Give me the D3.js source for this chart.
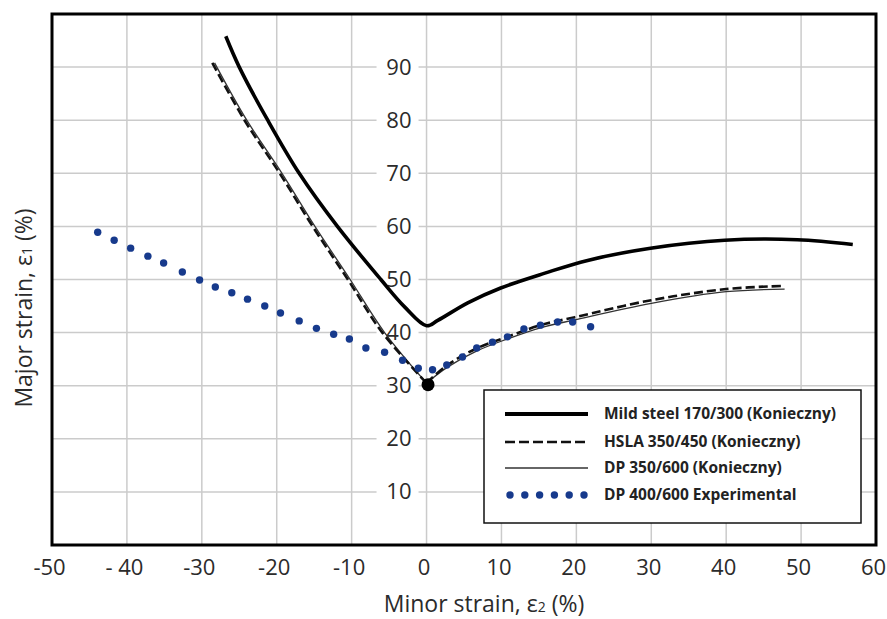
<!DOCTYPE html>
<html>
<head>
<meta charset="utf-8">
<script src="https://cdn.jsdelivr.net/npm/d3@7"></script>
<style>
  body { margin: 0; background: #fff; }
  svg { display: block; font-family: "Open Sans", sans-serif; }
</style>
</head>
<body>
<svg id="chart"></svg>
<script>
// tick values and labels
const xTicks = [-50, -40, -30, -20, -10, 0, 10, 20, 30, 40, 50, 60];
const xTickLabels = ['-50', '- 40', '-30', '-20', '-10', '0', '10', '20', '30', '40', '50', '60'];
const yTicks = [10, 20, 30, 40, 50, 60, 70, 80, 90];

// forming limit curves, [minor strain, major strain]
const mildLeft = [[-26.8, 95.8], [-25.0, 90], [-21.2, 80], [-17.0, 70], [-11.9, 60], [-6.1, 50], [-2.9, 44.8], [0, 41.3]];
const mildRight = [[0, 41.3], [1.5, 42.3], [5.5, 45.6], [9.9, 48.4], [15.8, 51.2], [21.5, 53.6], [29.9, 55.9], [39.8, 57.4], [49.5, 57.5], [56.9, 56.6]];
const hslaLeft = [[-28.6, 90.8], [-24.3, 80], [-19.6, 70], [-15.2, 60], [-10.5, 50], [-5.9, 40], [0, 30.5]];
const hslaRight = [[0, 30.5], [2.8, 33.9], [6.8, 37.1], [10.8, 39.2], [15.2, 41.4], [19.8, 42.9], [30, 46.1], [40, 48.2], [47.8, 48.8]];
const dpLeft = [[-28.3, 90.8], [-24.0, 80], [-19.3, 70], [-14.9, 60], [-10.2, 50], [-5.6, 40], [0, 30.5]];
const dpRight = [[0, 30.5], [2.8, 33.5], [6.8, 36.6], [10.8, 38.8], [15.2, 40.9], [19.8, 42.4], [30, 45.5], [40, 47.7], [47.8, 48.2]];
const vertex = [[0.2, 30.2]];
const experimental = [
    [-43.9, 58.9], [-41.7, 57.4], [-39.5, 55.9], [-37.2, 54.4], [-35.1, 53.1], [-32.6, 51.4],
    [-30.3, 49.9], [-28.2, 48.6], [-26.0, 47.5], [-23.9, 46.3], [-21.6, 45.0], [-19.5, 43.7],
    [-17.0, 42.2], [-14.7, 40.8], [-12.4, 39.7], [-10.3, 38.8], [-8.1, 37.1], [-5.6, 36.3],
    [-3.2, 34.8], [-1.1, 33.3], [0.8, 33.0], [2.7, 33.9], [4.8, 35.4], [6.7, 37.1],
    [8.8, 38.2], [10.8, 39.2], [13.0, 40.7], [15.2, 41.4], [17.5, 42.0], [19.5, 42.0], [21.9, 41.1]
];
const legendNames = ['Mild steel 170/300 (Konieczny)', 'HSLA 350/450 (Konieczny)', 'DP 350/600 (Konieczny)', 'DP 400/600 Experimental'];

const width = 887, height = 619;
const margin = {top: 14, right: 11, bottom: 74, left: 52};
const innerWidth = width - margin.left - margin.right;
const innerHeight = height - margin.top - margin.bottom;
const textColor = '#2b2b2b';
const dotColor = '#173a8c';

const svg = d3.select('#chart')
    .attr('width', width)
    .attr('height', height);

const chart = svg.append('g')
    .attr('transform', `translate(${margin.left}, ${margin.top})`);

const xscale = d3.scaleLinear().domain([-50, 60]).range([0, innerWidth]);
const yscale = d3.scaleLinear().domain([0, 100]).range([innerHeight, 0]);

// grid
chart.selectAll('.vgrid')
    .data(xTicks.slice(1, -1))
    .enter()
    .append('line')
    .attr('x1', d => xscale(d)).attr('x2', d => xscale(d))
    .attr('y1', 0).attr('y2', innerHeight)
    .attr('stroke', '#cbcbcb')
    .attr('stroke-width', 1.5);

chart.selectAll('.hgrid')
    .data(yTicks)
    .enter()
    .append('line')
    .attr('x1', 0).attr('x2', innerWidth)
    .attr('y1', d => yscale(d)).attr('y2', d => yscale(d))
    .attr('stroke', '#cbcbcb')
    .attr('stroke-width', 1.5);

// x axis labels
const xaxis = d3.axisBottom(xscale)
    .tickValues(xTicks)
    .tickFormat((d, i) => xTickLabels[i])
    .tickSize(0)
    .tickPadding(14);

const xaxis_group = chart.append('g')
    .attr('transform', `translate(0, ${innerHeight})`)
    .call(xaxis);
xaxis_group.select('.domain').remove();
xaxis_group.selectAll('text')
    .attr('dx', -3)
    .style('font-size', '22px')
    .style('font-family', '"Open Sans", sans-serif')
    .attr('fill', textColor);

// y axis labels sit on white boxes left of minor strain = 0
const yaxis = d3.axisLeft(yscale)
    .tickValues(yTicks)
    .tickSize(0)
    .tickPadding(15);

const yaxis_group = chart.append('g')
    .attr('transform', `translate(${xscale(0)}, 0)`)
    .call(yaxis);
yaxis_group.select('.domain').remove();
yaxis_group.selectAll('.tick')
    .insert('rect', 'text')
    .attr('x', -50)
    .attr('y', -13)
    .attr('width', 42)
    .attr('height', 26)
    .attr('fill', '#fff');
yaxis_group.selectAll('text')
    .style('font-size', '22px')
    .style('font-family', '"Open Sans", sans-serif')
    .attr('fill', textColor);

// curves
const line = d3.line()
    .x(d => xscale(d[0]))
    .y(d => yscale(d[1]))
    .curve(d3.curveCatmullRom.alpha(0.5));

[dpLeft, dpRight].forEach(branch => {
    chart.append('path')
        .attr('d', line(branch))
        .attr('fill', 'none')
        .attr('stroke', '#333')
        .attr('stroke-width', 1.3);
});

[hslaLeft, hslaRight].forEach(branch => {
    chart.append('path')
        .attr('d', line(branch))
        .attr('fill', 'none')
        .attr('stroke', '#111')
        .attr('stroke-width', 2.6)
        .attr('stroke-dasharray', '9,4');
});

chart.append('path')
    .attr('d', line(mildLeft.concat(mildRight.slice(1))))
    .attr('fill', 'none')
    .attr('stroke', '#000')
    .attr('stroke-width', 3.6);

chart.selectAll('.vertex')
    .data(vertex)
    .enter()
    .append('circle')
    .attr('cx', d => xscale(d[0]))
    .attr('cy', d => yscale(d[1]))
    .attr('r', 6.5)
    .attr('fill', '#000');

chart.selectAll('.exp')
    .data(experimental)
    .enter()
    .append('circle')
    .attr('cx', d => xscale(d[0]))
    .attr('cy', d => yscale(d[1]))
    .attr('r', 3.7)
    .attr('fill', dotColor);

// frame
chart.append('rect')
    .attr('width', innerWidth)
    .attr('height', innerHeight)
    .attr('fill', 'none')
    .attr('stroke', '#000')
    .attr('stroke-width', 3);

// legend
const legend = svg.append('g')
    .attr('transform', 'translate(484, 390)');

legend.append('rect')
    .attr('width', 377)
    .attr('height', 133)
    .attr('fill', '#fff')
    .attr('stroke', '#111')
    .attr('stroke-width', 1.5);

const rowY = [24, 52, 78, 105];
const sampleX0 = 21, sampleX1 = 104;

legend.append('line')
    .attr('x1', sampleX0).attr('x2', sampleX1)
    .attr('y1', rowY[0]).attr('y2', rowY[0])
    .attr('stroke', '#000').attr('stroke-width', 4);

legend.append('line')
    .attr('x1', sampleX0).attr('x2', sampleX1)
    .attr('y1', rowY[1]).attr('y2', rowY[1])
    .attr('stroke', '#111').attr('stroke-width', 2.6)
    .attr('stroke-dasharray', '10,4');

legend.append('line')
    .attr('x1', sampleX0).attr('x2', sampleX1)
    .attr('y1', rowY[2]).attr('y2', rowY[2])
    .attr('stroke', '#333').attr('stroke-width', 1.3);

legend.selectAll('.ldot')
    .data(d3.range(6))
    .enter()
    .append('circle')
    .attr('cx', d => 26 + d * 14.8)
    .attr('cy', rowY[3])
    .attr('r', 3.7)
    .attr('fill', dotColor);

legend.selectAll('.ltext')
    .data(legendNames)
    .enter()
    .append('text')
    .attr('x', 120)
    .attr('y', (d, i) => rowY[i] + 5)
    .style('font-size', '15.5px')
    .style('font-weight', 'bold')
    .attr('fill', '#222')
    .text(d => d);

// axis titles
const xtitle = svg.append('text')
    .attr('x', 484)
    .attr('y', 612)
    .attr('text-anchor', 'middle')
    .style('font-size', '23px')
    .attr('fill', textColor);
xtitle.append('tspan').text('Minor strain, ε');
xtitle.append('tspan').style('font-size', '14px').text('2');
xtitle.append('tspan').text(' (%)');

const ytitle = svg.append('text')
    .attr('transform', 'translate(32, 308) rotate(-90)')
    .attr('text-anchor', 'middle')
    .style('font-size', '23px')
    .attr('fill', textColor);
ytitle.append('tspan').text('Major strain, ε');
ytitle.append('tspan').style('font-size', '14px').text('1');
ytitle.append('tspan').text(' (%)');
</script>
</body>
</html>
